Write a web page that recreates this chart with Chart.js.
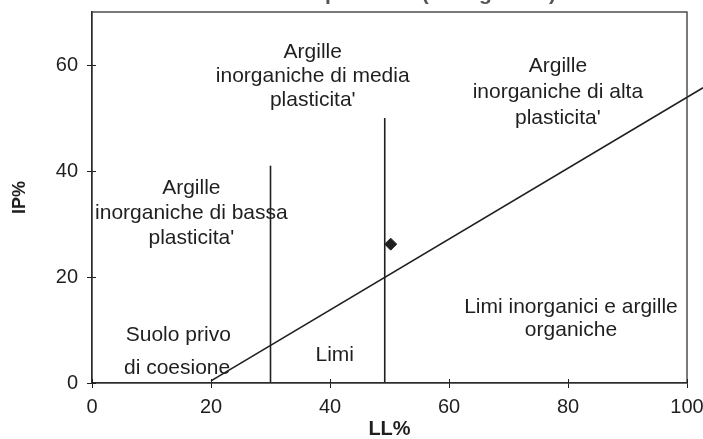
<!DOCTYPE html>
<html>
<head>
<meta charset="utf-8">
<script src="https://cdn.jsdelivr.net/npm/chart.js@4/dist/chart.umd.min.js"></script>
<style>
  html, body { margin: 0; padding: 0; background: #fff; }
  #wrap { width: 703px; height: 439px; }
</style>
</head>
<body>
<div id="wrap"><canvas id="myChart"></canvas></div>
<script>
// data
var xTicks = [0, 20, 40, 60, 80, 100];
var yTicks = [0, 20, 40, 60];

// linea A (runs past the frame on the right)
var aLineLL = [20, 102.7];
var aLineIP = [0.4, 55.7];

// vertical limits LL=30 and LL=50
var limitLL = [30, 49.2];
var limitTop = [41, 50];

// sample point
var sampleLL = [50.2];
var sampleIP = [26.2];

var zoneTexts = [
  ["Argille", "inorganiche di media", "plasticita'"],
  ["Argille", "inorganiche di alta", "plasticita'"],
  ["Argille", "inorganiche di bassa", "plasticita'"],
  ["Suolo privo"],
  ["di coesione"],
  ["Limi"],
  ["Limi inorganici e argille", "organiche"]
];
// where each block sits (data units: LL centre, IP of first line, line step in IP)
var zoneAt = [
  [37.1, 62.5, 4.6],
  [78.3, 59.8, 4.9],
  [16.7, 36.8, 4.7],
  [14.5, 9.1, 0],
  [14.3, 2.8, 0],
  [40.8, 5.3, 0],
  [80.5, 14.3, 4.3]
];

var titleText = "Carta di plasticità (Casagrande)";

var FONT = "'Liberation Sans', Arial, sans-serif";
var INK = "#1f1f1f";

function pts(xs, ys) {
  return xs.map(function (x, i) { return { x: x, y: ys[i] }; });
}

var datasets = [
  {
    label: "linea A",
    data: pts(aLineLL, aLineIP),
    showLine: true,
    borderColor: INK,
    borderWidth: 1.6,
    pointRadius: 0,
    clip: false
  }
];
limitLL.forEach(function (ll, i) {
  datasets.push({
    label: "LL " + ll,
    data: pts([ll, ll], [0, limitTop[i]]),
    showLine: true,
    borderColor: INK,
    borderWidth: 1.6,
    pointRadius: 0
  });
});
datasets.push({
  label: "campione",
  data: pts(sampleLL, sampleIP),
  showLine: false,
  pointStyle: "rectRot",
  pointRadius: 6,
  backgroundColor: INK,
  borderColor: INK
});

var framePlugin = {
  id: "frame",
  afterDatasetsDraw: function (chart) {
    var ctx = chart.ctx, a = chart.chartArea;
    var xs = chart.scales.x, ys = chart.scales.y;
    ctx.save();
    ctx.strokeStyle = "#333";
    ctx.lineWidth = 1.3;
    ctx.strokeRect(a.left, a.top, a.right - a.left, a.bottom - a.top);
    // inner half of the tick marks
    ctx.strokeStyle = INK;
    ctx.lineWidth = 1;
    xTicks.forEach(function (v) {
      var px = Math.round(xs.getPixelForValue(v)) + 0.5;
      ctx.beginPath(); ctx.moveTo(px, a.bottom); ctx.lineTo(px, a.bottom - 4); ctx.stroke();
    });
    yTicks.forEach(function (v) {
      var py = Math.round(ys.getPixelForValue(v)) + 0.5;
      ctx.beginPath(); ctx.moveTo(a.left, py); ctx.lineTo(a.left + 4, py); ctx.stroke();
    });

    // zone labels
    ctx.fillStyle = INK;
    ctx.font = "21px " + FONT;
    ctx.textAlign = "center";
    ctx.textBaseline = "middle";
    zoneTexts.forEach(function (lines, i) {
      var at = zoneAt[i];
      lines.forEach(function (t, j) {
        ctx.fillText(t, xs.getPixelForValue(at[0]), ys.getPixelForValue(at[1] - j * at[2]));
      });
    });

    // title, cut off by the top of the scan
    ctx.font = "bold 21px " + FONT;
    ctx.textAlign = "right";
    ctx.textBaseline = "alphabetic";
    ctx.fillStyle = "#555";
    ctx.fillText(titleText, 556, 0);
    ctx.restore();
  }
};

var ctx = document.getElementById("myChart").getContext("2d");
var chart = new Chart(ctx, {
  type: "scatter",
  data: { datasets: datasets },
  options: {
    responsive: true,
    maintainAspectRatio: false,
    animation: false,
    layout: { padding: { top: 12, right: 16, left: 0, bottom: 0 } },
    plugins: { legend: { display: false }, tooltip: { enabled: false } },
    scales: {
      x: {
        type: "linear",
        min: 0,
        max: 100,
        afterBuildTicks: function (s) { s.ticks = xTicks.map(function (v) { return { value: v }; }); },
        afterFit: function (s) { s.height = 56; s.paddingLeft = 0; s.paddingRight = 0; },
        grid: { display: true, drawOnChartArea: false, drawTicks: true, tickLength: 5, color: INK },
        border: { display: true, color: INK, width: 1.3 },
        ticks: { color: INK, font: { family: FONT, size: 20 }, padding: 7, maxRotation: 0, autoSkip: false },
        title: { display: true, text: "LL%", color: INK, font: { family: FONT, size: 20, weight: "bold", lineHeight: 1 }, padding: { top: 0, bottom: 0 } }
      },
      y: {
        type: "linear",
        min: 0,
        max: 70,
        afterBuildTicks: function (s) { s.ticks = yTicks.map(function (v) { return { value: v }; }); },
        afterFit: function (s) { s.width = 92; s.paddingTop = 0; s.paddingBottom = 0; },
        grid: { display: true, drawOnChartArea: false, drawTicks: true, tickLength: 5, color: INK },
        border: { display: true, color: INK, width: 1.3 },
        ticks: { color: INK, font: { family: FONT, size: 20 }, padding: 9 },
        title: { display: true, text: "IP%", color: INK, font: { family: FONT, size: 18, weight: "bold" }, padding: { top: 9, bottom: 0 } }
      }
    }
  },
  plugins: [framePlugin]
});
</script>
</body>
</html>
